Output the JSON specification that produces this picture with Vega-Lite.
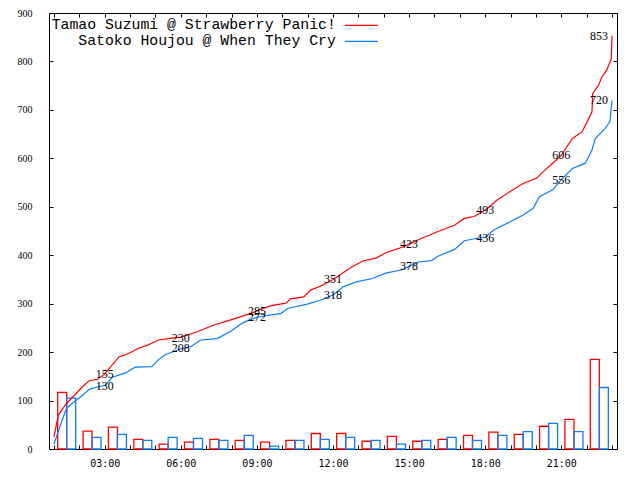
{
  "$schema": "https://vega.github.io/schema/vega-lite/v6.json",
  "description": "Cumulative and hourly counts, two characters",
  "width": 568,
  "height": 436,
  "autosize": {"type": "none"},
  "padding": {"left": 49, "top": 13, "right": 23, "bottom": 31},
  "background": "white",
  "datasets": {
    "cum": [
      {"t": 1.0, "v": 25, "s": "Tamao Suzumi @ Strawberry Panic!"},
      {"t": 1.17, "v": 70, "s": "Tamao Suzumi @ Strawberry Panic!"},
      {"t": 1.49, "v": 94, "s": "Tamao Suzumi @ Strawberry Panic!"},
      {"t": 1.81, "v": 111, "s": "Tamao Suzumi @ Strawberry Panic!"},
      {"t": 2.13, "v": 129, "s": "Tamao Suzumi @ Strawberry Panic!"},
      {"t": 2.39, "v": 141, "s": "Tamao Suzumi @ Strawberry Panic!"},
      {"t": 2.72, "v": 144, "s": "Tamao Suzumi @ Strawberry Panic!"},
      {"t": 3.0, "v": 155, "s": "Tamao Suzumi @ Strawberry Panic!"},
      {"t": 3.56, "v": 190, "s": "Tamao Suzumi @ Strawberry Panic!"},
      {"t": 3.94, "v": 197, "s": "Tamao Suzumi @ Strawberry Panic!"},
      {"t": 4.33, "v": 208, "s": "Tamao Suzumi @ Strawberry Panic!"},
      {"t": 4.72, "v": 215, "s": "Tamao Suzumi @ Strawberry Panic!"},
      {"t": 5.11, "v": 225, "s": "Tamao Suzumi @ Strawberry Panic!"},
      {"t": 5.49, "v": 228, "s": "Tamao Suzumi @ Strawberry Panic!"},
      {"t": 6.0, "v": 231, "s": "Tamao Suzumi @ Strawberry Panic!"},
      {"t": 6.65, "v": 242, "s": "Tamao Suzumi @ Strawberry Panic!"},
      {"t": 7.3, "v": 256, "s": "Tamao Suzumi @ Strawberry Panic!"},
      {"t": 7.94, "v": 266, "s": "Tamao Suzumi @ Strawberry Panic!"},
      {"t": 8.59, "v": 277, "s": "Tamao Suzumi @ Strawberry Panic!"},
      {"t": 9.0, "v": 285, "s": "Tamao Suzumi @ Strawberry Panic!"},
      {"t": 9.56, "v": 296, "s": "Tamao Suzumi @ Strawberry Panic!"},
      {"t": 10.14, "v": 301, "s": "Tamao Suzumi @ Strawberry Panic!"},
      {"t": 10.33, "v": 310, "s": "Tamao Suzumi @ Strawberry Panic!"},
      {"t": 10.85, "v": 314, "s": "Tamao Suzumi @ Strawberry Panic!"},
      {"t": 11.11, "v": 328, "s": "Tamao Suzumi @ Strawberry Panic!"},
      {"t": 11.5, "v": 336, "s": "Tamao Suzumi @ Strawberry Panic!"},
      {"t": 12.0, "v": 350, "s": "Tamao Suzumi @ Strawberry Panic!"},
      {"t": 12.27, "v": 359, "s": "Tamao Suzumi @ Strawberry Panic!"},
      {"t": 12.66, "v": 373, "s": "Tamao Suzumi @ Strawberry Panic!"},
      {"t": 13.17, "v": 388, "s": "Tamao Suzumi @ Strawberry Panic!"},
      {"t": 13.69, "v": 394, "s": "Tamao Suzumi @ Strawberry Panic!"},
      {"t": 14.08, "v": 405, "s": "Tamao Suzumi @ Strawberry Panic!"},
      {"t": 14.59, "v": 414, "s": "Tamao Suzumi @ Strawberry Panic!"},
      {"t": 15.0, "v": 423, "s": "Tamao Suzumi @ Strawberry Panic!"},
      {"t": 15.5, "v": 435, "s": "Tamao Suzumi @ Strawberry Panic!"},
      {"t": 16.14, "v": 449, "s": "Tamao Suzumi @ Strawberry Panic!"},
      {"t": 16.79, "v": 462, "s": "Tamao Suzumi @ Strawberry Panic!"},
      {"t": 17.18, "v": 476, "s": "Tamao Suzumi @ Strawberry Panic!"},
      {"t": 17.56, "v": 480, "s": "Tamao Suzumi @ Strawberry Panic!"},
      {"t": 18.0, "v": 493, "s": "Tamao Suzumi @ Strawberry Panic!"},
      {"t": 18.47, "v": 514, "s": "Tamao Suzumi @ Strawberry Panic!"},
      {"t": 19.0, "v": 532, "s": "Tamao Suzumi @ Strawberry Panic!"},
      {"t": 19.5, "v": 548, "s": "Tamao Suzumi @ Strawberry Panic!"},
      {"t": 20.02, "v": 559, "s": "Tamao Suzumi @ Strawberry Panic!"},
      {"t": 20.28, "v": 572, "s": "Tamao Suzumi @ Strawberry Panic!"},
      {"t": 20.79, "v": 596, "s": "Tamao Suzumi @ Strawberry Panic!"},
      {"t": 21.0, "v": 606, "s": "Tamao Suzumi @ Strawberry Panic!"},
      {"t": 21.44, "v": 641, "s": "Tamao Suzumi @ Strawberry Panic!"},
      {"t": 21.82, "v": 655, "s": "Tamao Suzumi @ Strawberry Panic!"},
      {"t": 22.08, "v": 682, "s": "Tamao Suzumi @ Strawberry Panic!"},
      {"t": 22.21, "v": 696, "s": "Tamao Suzumi @ Strawberry Panic!"},
      {"t": 22.24, "v": 734, "s": "Tamao Suzumi @ Strawberry Panic!"},
      {"t": 22.47, "v": 751, "s": "Tamao Suzumi @ Strawberry Panic!"},
      {"t": 22.6, "v": 768, "s": "Tamao Suzumi @ Strawberry Panic!"},
      {"t": 22.79, "v": 782, "s": "Tamao Suzumi @ Strawberry Panic!"},
      {"t": 22.92, "v": 799, "s": "Tamao Suzumi @ Strawberry Panic!"},
      {"t": 22.97, "v": 805, "s": "Tamao Suzumi @ Strawberry Panic!"},
      {"t": 23.0, "v": 853, "s": "Tamao Suzumi @ Strawberry Panic!"},
      {"t": 1.0, "v": 10, "s": "Satoko Houjou @ When They Cry"},
      {"t": 1.23, "v": 46, "s": "Satoko Houjou @ When They Cry"},
      {"t": 1.49, "v": 84, "s": "Satoko Houjou @ When They Cry"},
      {"t": 1.81, "v": 98, "s": "Satoko Houjou @ When They Cry"},
      {"t": 2.13, "v": 111, "s": "Satoko Houjou @ When They Cry"},
      {"t": 2.39, "v": 123, "s": "Satoko Houjou @ When They Cry"},
      {"t": 2.78, "v": 129, "s": "Satoko Houjou @ When They Cry"},
      {"t": 3.0, "v": 131, "s": "Satoko Houjou @ When They Cry"},
      {"t": 3.1, "v": 136, "s": "Satoko Houjou @ When They Cry"},
      {"t": 3.3, "v": 148, "s": "Satoko Houjou @ When They Cry"},
      {"t": 3.82, "v": 157, "s": "Satoko Houjou @ When They Cry"},
      {"t": 4.2, "v": 169, "s": "Satoko Houjou @ When They Cry"},
      {"t": 4.85, "v": 170, "s": "Satoko Houjou @ When They Cry"},
      {"t": 5.11, "v": 184, "s": "Satoko Houjou @ When They Cry"},
      {"t": 5.36, "v": 194, "s": "Satoko Houjou @ When They Cry"},
      {"t": 6.0, "v": 207, "s": "Satoko Houjou @ When They Cry"},
      {"t": 6.39, "v": 211, "s": "Satoko Houjou @ When They Cry"},
      {"t": 6.78, "v": 225, "s": "Satoko Houjou @ When They Cry"},
      {"t": 7.43, "v": 228, "s": "Satoko Houjou @ When They Cry"},
      {"t": 7.94, "v": 242, "s": "Satoko Houjou @ When They Cry"},
      {"t": 8.4, "v": 259, "s": "Satoko Houjou @ When They Cry"},
      {"t": 8.59, "v": 264, "s": "Satoko Houjou @ When They Cry"},
      {"t": 9.0, "v": 272, "s": "Satoko Houjou @ When They Cry"},
      {"t": 9.95, "v": 280, "s": "Satoko Houjou @ When They Cry"},
      {"t": 10.21, "v": 290, "s": "Satoko Houjou @ When They Cry"},
      {"t": 10.98, "v": 299, "s": "Satoko Houjou @ When They Cry"},
      {"t": 11.5, "v": 307, "s": "Satoko Houjou @ When They Cry"},
      {"t": 12.0, "v": 318, "s": "Satoko Houjou @ When They Cry"},
      {"t": 12.4, "v": 335, "s": "Satoko Houjou @ When They Cry"},
      {"t": 12.92, "v": 345, "s": "Satoko Houjou @ When They Cry"},
      {"t": 13.56, "v": 352, "s": "Satoko Houjou @ When They Cry"},
      {"t": 14.08, "v": 363, "s": "Satoko Houjou @ When They Cry"},
      {"t": 14.72, "v": 370, "s": "Satoko Houjou @ When They Cry"},
      {"t": 15.0, "v": 377, "s": "Satoko Houjou @ When They Cry"},
      {"t": 15.37, "v": 386, "s": "Satoko Houjou @ When They Cry"},
      {"t": 15.88, "v": 389, "s": "Satoko Houjou @ When They Cry"},
      {"t": 16.14, "v": 398, "s": "Satoko Houjou @ When They Cry"},
      {"t": 16.79, "v": 412, "s": "Satoko Houjou @ When They Cry"},
      {"t": 17.18, "v": 430, "s": "Satoko Houjou @ When They Cry"},
      {"t": 17.69, "v": 435, "s": "Satoko Houjou @ When They Cry"},
      {"t": 18.0, "v": 437, "s": "Satoko Houjou @ When They Cry"},
      {"t": 18.34, "v": 452, "s": "Satoko Houjou @ When They Cry"},
      {"t": 18.98, "v": 469, "s": "Satoko Houjou @ When They Cry"},
      {"t": 19.5, "v": 483, "s": "Satoko Houjou @ When They Cry"},
      {"t": 19.89, "v": 497, "s": "Satoko Houjou @ When They Cry"},
      {"t": 20.14, "v": 521, "s": "Satoko Houjou @ When They Cry"},
      {"t": 20.66, "v": 535, "s": "Satoko Houjou @ When They Cry"},
      {"t": 21.0, "v": 556, "s": "Satoko Houjou @ When They Cry"},
      {"t": 21.44, "v": 579, "s": "Satoko Houjou @ When They Cry"},
      {"t": 21.95, "v": 590, "s": "Satoko Houjou @ When They Cry"},
      {"t": 22.21, "v": 617, "s": "Satoko Houjou @ When They Cry"},
      {"t": 22.34, "v": 641, "s": "Satoko Houjou @ When They Cry"},
      {"t": 22.73, "v": 662, "s": "Satoko Houjou @ When They Cry"},
      {"t": 22.92, "v": 676, "s": "Satoko Houjou @ When They Cry"},
      {"t": 23.0, "v": 720, "s": "Satoko Houjou @ When They Cry"}
    ],
    "hourly": [
      {"t": 1.5, "n": 117, "s": "Tamao Suzumi @ Strawberry Panic!"},
      {"t": 2.5, "n": 37, "s": "Tamao Suzumi @ Strawberry Panic!"},
      {"t": 3.5, "n": 45, "s": "Tamao Suzumi @ Strawberry Panic!"},
      {"t": 4.5, "n": 20, "s": "Tamao Suzumi @ Strawberry Panic!"},
      {"t": 5.5, "n": 10, "s": "Tamao Suzumi @ Strawberry Panic!"},
      {"t": 6.5, "n": 14, "s": "Tamao Suzumi @ Strawberry Panic!"},
      {"t": 7.5, "n": 20, "s": "Tamao Suzumi @ Strawberry Panic!"},
      {"t": 8.5, "n": 18, "s": "Tamao Suzumi @ Strawberry Panic!"},
      {"t": 9.5, "n": 14, "s": "Tamao Suzumi @ Strawberry Panic!"},
      {"t": 10.5, "n": 18, "s": "Tamao Suzumi @ Strawberry Panic!"},
      {"t": 11.5, "n": 32, "s": "Tamao Suzumi @ Strawberry Panic!"},
      {"t": 12.5, "n": 32, "s": "Tamao Suzumi @ Strawberry Panic!"},
      {"t": 13.5, "n": 16, "s": "Tamao Suzumi @ Strawberry Panic!"},
      {"t": 14.5, "n": 26, "s": "Tamao Suzumi @ Strawberry Panic!"},
      {"t": 15.5, "n": 16, "s": "Tamao Suzumi @ Strawberry Panic!"},
      {"t": 16.5, "n": 20, "s": "Tamao Suzumi @ Strawberry Panic!"},
      {"t": 17.5, "n": 28, "s": "Tamao Suzumi @ Strawberry Panic!"},
      {"t": 18.5, "n": 35, "s": "Tamao Suzumi @ Strawberry Panic!"},
      {"t": 19.5, "n": 30, "s": "Tamao Suzumi @ Strawberry Panic!"},
      {"t": 20.5, "n": 47, "s": "Tamao Suzumi @ Strawberry Panic!"},
      {"t": 21.5, "n": 61, "s": "Tamao Suzumi @ Strawberry Panic!"},
      {"t": 22.5, "n": 185, "s": "Tamao Suzumi @ Strawberry Panic!"},
      {"t": 1.5, "n": 105, "s": "Satoko Houjou @ When They Cry"},
      {"t": 2.5, "n": 24, "s": "Satoko Houjou @ When They Cry"},
      {"t": 3.5, "n": 30, "s": "Satoko Houjou @ When They Cry"},
      {"t": 4.5, "n": 18, "s": "Satoko Houjou @ When They Cry"},
      {"t": 5.5, "n": 24, "s": "Satoko Houjou @ When They Cry"},
      {"t": 6.5, "n": 22, "s": "Satoko Houjou @ When They Cry"},
      {"t": 7.5, "n": 18, "s": "Satoko Houjou @ When They Cry"},
      {"t": 8.5, "n": 28, "s": "Satoko Houjou @ When They Cry"},
      {"t": 9.5, "n": 6, "s": "Satoko Houjou @ When They Cry"},
      {"t": 10.5, "n": 18, "s": "Satoko Houjou @ When They Cry"},
      {"t": 11.5, "n": 20, "s": "Satoko Houjou @ When They Cry"},
      {"t": 12.5, "n": 24, "s": "Satoko Houjou @ When They Cry"},
      {"t": 13.5, "n": 18, "s": "Satoko Houjou @ When They Cry"},
      {"t": 14.5, "n": 10, "s": "Satoko Houjou @ When They Cry"},
      {"t": 15.5, "n": 18, "s": "Satoko Houjou @ When They Cry"},
      {"t": 16.5, "n": 24, "s": "Satoko Houjou @ When They Cry"},
      {"t": 17.5, "n": 18, "s": "Satoko Houjou @ When They Cry"},
      {"t": 18.5, "n": 28, "s": "Satoko Houjou @ When They Cry"},
      {"t": 19.5, "n": 36, "s": "Satoko Houjou @ When They Cry"},
      {"t": 20.5, "n": 53, "s": "Satoko Houjou @ When They Cry"},
      {"t": 21.5, "n": 36, "s": "Satoko Houjou @ When They Cry"},
      {"t": 22.5, "n": 127, "s": "Satoko Houjou @ When They Cry"}
    ],
    "marks": [
      {"t": 3, "v": 155}, {"t": 6, "v": 230}, {"t": 9, "v": 285}, {"t": 12, "v": 351},
      {"t": 15, "v": 423}, {"t": 18, "v": 493}, {"t": 21, "v": 606}, {"t": 23, "v": 853},
      {"t": 3, "v": 130}, {"t": 6, "v": 208}, {"t": 9, "v": 272}, {"t": 12, "v": 318},
      {"t": 15, "v": 378}, {"t": 18, "v": 436}, {"t": 21, "v": 556}, {"t": 23, "v": 720}
    ]
  },
  "resolve": {"axis": {"x": "independent", "y": "independent"}},
  "layer": [
    {
      "data": {"name": "hourly"},
      "transform": [{"filter": "datum.s == 'Tamao Suzumi @ Strawberry Panic!'"}],
      "mark": {"type": "bar", "filled": false, "strokeWidth": 1.3, "width": 9, "xOffset": -4.5},
      "encoding": {
        "x": {"field": "t", "type": "quantitative", "scale": {"domain": [1, 23], "nice": false, "zero": false},
          "axis": {"orient": "top", "values": [1,2,3,4,5,6,7,8,9,10,11,12,13,14,15,16,17,18,19,20,21,22,23], "labels": false, "title": null}},
        "y": {"field": "n", "type": "quantitative", "scale": {"domain": [0, 900], "nice": false},
          "axis": {"orient": "right", "values": [0,100,200,300,400,500,600,700,800,900], "labels": false, "title": null}},
        "color": {"field": "s", "type": "nominal"}
      }
    },
    {
      "data": {"name": "hourly"},
      "transform": [{"filter": "datum.s == 'Satoko Houjou @ When They Cry'"}],
      "mark": {"type": "bar", "filled": false, "strokeWidth": 1.3, "width": 9, "xOffset": 4.5},
      "encoding": {
        "x": {"field": "t", "type": "quantitative", "axis": null},
        "y": {"field": "n", "type": "quantitative", "axis": null},
        "color": {"field": "s", "type": "nominal"}
      }
    },
    {
      "data": {"name": "cum"},
      "mark": {"type": "line", "strokeWidth": 1.2},
      "encoding": {
        "x": {"field": "t", "type": "quantitative",
          "axis": {"orient": "bottom", "values": [1,2,3,4,5,6,7,8,9,10,11,12,13,14,15,16,17,18,19,20,21,22,23], "title": null,
            "labelExpr": "datum.value % 3 == 0 ? (datum.value < 10 ? '0' : '') + datum.value + ':00' : ''",
            "labelFont": "DejaVu Sans Mono", "labelFontSize": 10, "labelPadding": 13}},
        "y": {"field": "v", "type": "quantitative",
          "axis": {"orient": "left", "values": [0,100,200,300,400,500,600,700,800,900], "title": null,
            "labelFont": "Liberation Sans Narrow", "labelFontSize": 10, "labelPadding": 21}},
        "color": {
          "field": "s", "type": "nominal",
          "scale": {"domain": ["Tamao Suzumi @ Strawberry Panic!", "Satoko Houjou @ When They Cry"], "range": ["#ff0000", "#0a7cff"]},
          "legend": {
            "title": null, "orient": "none", "legendX": 305, "legendY": 5,
            "symbolType": "M-3,0H3", "symbolSize": 121, "symbolStrokeWidth": 1.3, "symbolFillColor": "transparent",
            "labelFont": "Liberation Mono", "labelFontSize": 14.8, "labelColor": "black",
            "labelAlign": "right", "labelOffset": -33, "labelLimit": 0, "rowPadding": 0, "padding": 0
          }
        }
      }
    },
    {
      "data": {"name": "marks"},
      "transform": [{"filter": "datum.t < 23"}],
      "mark": {"type": "text", "font": "Liberation Sans Narrow", "fontSize": 12, "color": "black", "align": "center", "baseline": "middle"},
      "encoding": {
        "x": {"field": "t", "type": "quantitative", "axis": null},
        "y": {"field": "v", "type": "quantitative", "axis": null},
        "text": {"field": "v", "type": "quantitative"}
      }
    },
    {
      "data": {"name": "marks"},
      "transform": [{"filter": "datum.t == 23"}],
      "mark": {"type": "text", "font": "Liberation Sans Narrow", "fontSize": 12, "color": "black", "align": "right", "baseline": "middle", "dx": -4},
      "encoding": {
        "x": {"field": "t", "type": "quantitative", "axis": null},
        "y": {"field": "v", "type": "quantitative", "axis": null},
        "text": {"field": "v", "type": "quantitative"}
      }
    }
  ],
  "config": {
    "view": {"stroke": "black", "strokeWidth": 1},
    "axis": {"domain": false, "grid": false, "ticks": true, "tickColor": "black", "tickSize": -4, "tickWidth": 1,
      "labelColor": "black", "labelFlush": false, "labelOverlap": false, "labelBound": false}
  }
}
